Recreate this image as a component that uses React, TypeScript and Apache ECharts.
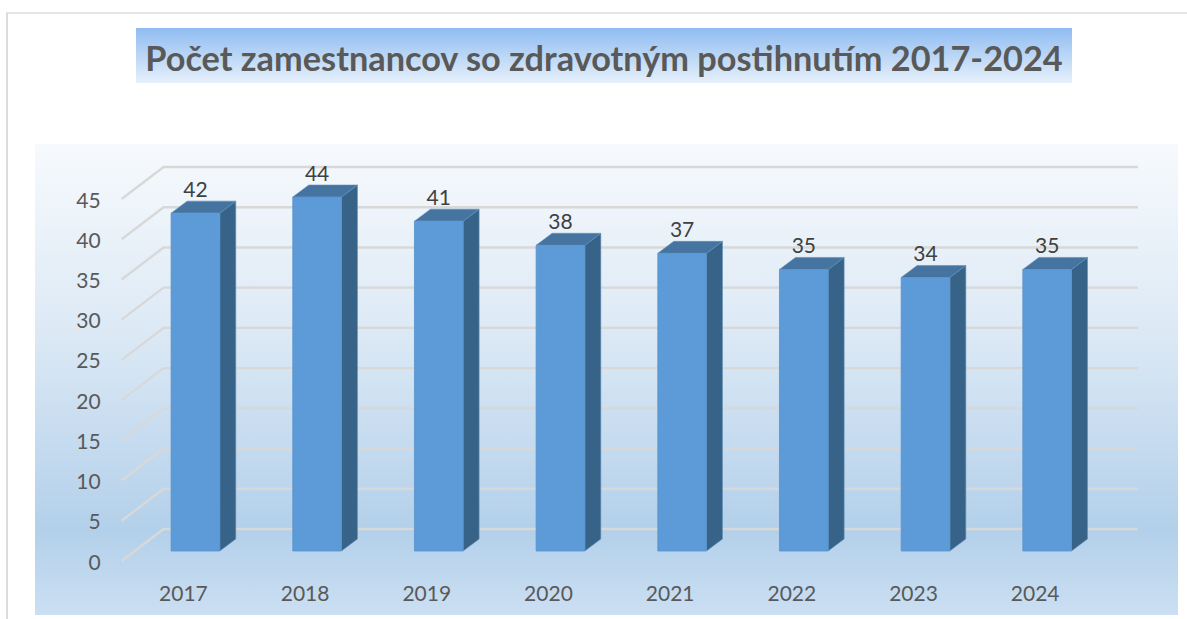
import React, { useEffect, useRef } from "react";
import * as echarts from "echarts";

const titleText = "Počet zamestnancov so zdravotným postihnutím 2017-2024";
const years = ["2017", "2018", "2019", "2020", "2021", "2022", "2023", "2024"];
const employees = [42, 44, 41, 38, 37, 35, 34, 35];
const yTicks = [0, 5, 10, 15, 20, 25, 30, 35, 40, 45];

const FONT = "Lato, Carlito, Calibri, sans-serif";

export default function App() {
  const ref = useRef<HTMLDivElement>(null);
  useEffect(() => {
    const chart = echarts.init(ref.current!, undefined, { renderer: "svg" });

    const renderWall = (params: any, api: any) => {
      const cs = params.coordSys;
      const y = api.coord([0, api.value(1)])[1];
      return {
        type: "polyline",
        shape: {
          points: [
            [cs.x - 1, y],
            [cs.x + 41, y - 32],
            [1138, y - 32],
          ],
        },
        style: { stroke: "#d8d8d8", lineWidth: 2.4, fill: "none" },
      };
    };

    const renderBar = (_params: any, api: any) => {
      const v = api.value(1);
      const base = api.coord([api.value(0), 0]);
      const top = api.coord([api.value(0), v]);
      const w = api.size([1, 0])[0] * 0.4;
      const offX = 12;
      const offY = -10;
      const dX = 16;
      const dY = -12;
      const l = base[0] + offX - w / 2;
      const r = l + w;
      const b = base[1] + offY;
      const t = top[1] + offY;
      return {
        type: "group",
        children: [
          {
            type: "polygon",
            shape: { points: [[r, t], [r + dX, t + dY], [r + dX, b + dY], [r, b]] },
            style: { fill: "#386389", stroke: "#5f8fb8", lineWidth: 0.6 },
          },
          {
            type: "polygon",
            shape: { points: [[l, t], [l + dX, t + dY], [r + dX, t + dY], [r, t]] },
            style: { fill: "#44749f", stroke: "#5f8fb8", lineWidth: 0.6 },
          },
          {
            type: "rect",
            shape: { x: l, y: t, width: w, height: b - t },
            style: { fill: "#5c9bd7", stroke: "#5893cc", lineWidth: 0.8 },
          },
          {
            type: "text",
            style: {
              text: String(v),
              x: l + w / 2,
              y: t - 25,
              align: "center",
              verticalAlign: "middle",
              fill: "#404040",
              fontFamily: FONT,
              fontSize: 21,
            },
          },
        ],
      };
    };

    chart.setOption({
      animation: false,
      backgroundColor: "#ffffff",
      title: {
        text: titleText,
        left: 599,
        textAlign: "center",
        top: 35,
        textStyle: { fontFamily: FONT, fontSize: 34.3, fontWeight: "bold", color: "#595959" },
      },
      graphic: [
        { type: "line", z: 0, shape: { x1: 7, y1: 13, x2: 7, y2: 619 }, style: { stroke: "#dcdcdc", lineWidth: 2 } },
        { type: "line", z: 0, shape: { x1: 6, y1: 13, x2: 1187, y2: 13 }, style: { stroke: "#dcdcdc", lineWidth: 1.5 } },
        {
          type: "rect",
          z: 0,
          shape: { x: 136, y: 28, width: 936, height: 55 },
          style: {
            fill: new echarts.graphic.LinearGradient(0, 0, 0, 1, [
              { offset: 0, color: "#8fbcf1" },
              { offset: 1, color: "#e6f0fb" },
            ]),
          },
        },
        {
          type: "rect",
          z: 0,
          shape: { x: 35, y: 144, width: 1143, height: 471 },
          style: {
            fill: new echarts.graphic.LinearGradient(0, 0, 0, 1, [
              { offset: 0, color: "#f7fafd" },
              { offset: 0.4, color: "#dce9f5" },
              { offset: 0.82, color: "#b3d0ea" },
              { offset: 1, color: "#cbdff2" },
            ]),
          },
        },
      ],
      grid: { left: 122.6, top: 199, width: 973.4, height: 362 },
      xAxis: {
        type: "category",
        data: years,
        axisLine: { show: false },
        axisTick: { show: false },
        axisLabel: { color: "#595959", fontFamily: FONT, fontSize: 21, margin: 21 },
      },
      yAxis: {
        type: "value",
        min: 0,
        max: 45,
        interval: 5,
        axisLine: { show: false },
        axisTick: { show: false },
        splitLine: { show: false },
        axisLabel: { color: "#595959", fontFamily: FONT, fontSize: 21, margin: 22, padding: [2, 0, 0, 0] },
      },
      series: [
        {
          type: "custom",
          name: "wall",
          silent: true,
          clip: false,
          z: 2,
          encode: { x: 0, y: 1 },
          data: yTicks.map((t) => [0, t]),
          renderItem: renderWall,
        },
        {
          type: "custom",
          name: "Počet zamestnancov",
          silent: true,
          clip: false,
          z: 3,
          encode: { x: 0, y: 1 },
          data: employees.map((v, i) => [i, v]),
          renderItem: renderBar,
        },
      ],
    });
    return () => chart.dispose();
  }, []);
  return <div ref={ref} style={{ position: "absolute", left: 0, top: 0, width: 1187, height: 619 }} />;
}
